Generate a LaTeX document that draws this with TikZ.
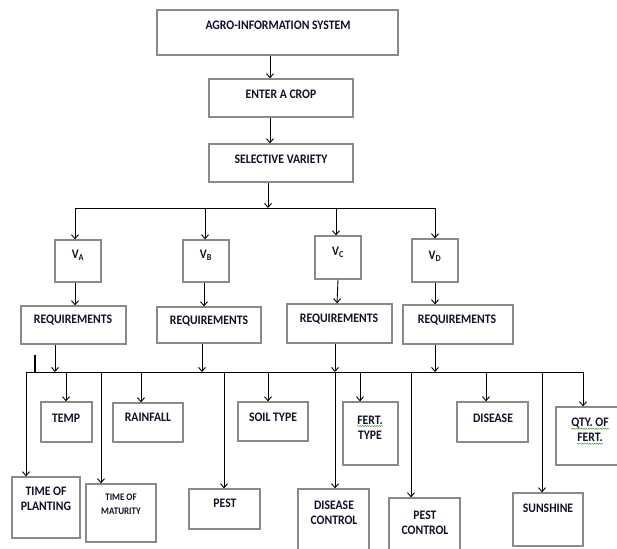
\documentclass[tikz,border=0pt]{standalone}
\usepackage{fontspec}
\setmainfont{Carlito}[FakeStretch=0.9]
\usetikzlibrary{arrows.meta,decorations.pathmorphing}
\definecolor{boxgray}{HTML}{8A8A8A}
\definecolor{txt}{HTML}{10102A}
\definecolor{wavegreen}{HTML}{3FA33F}
\newcommand\gwave[1]{\tikz[baseline=(w.base)]{\node[inner sep=0pt] (w) {#1}; \draw[wavegreen, line width=0.5pt, decorate, decoration={snake,amplitude=0.6pt,segment length=2.4pt}] ([yshift=-1.8pt]w.base west) -- ([yshift=-1.8pt]w.base east);}}
\newcommand\bx[5]{\node[box, minimum width={(#4-#2)*1pt}, minimum height={(#5-#3)*1pt}] (#1) at ({(#2+#4)/2},{(#3+#5)/2}) {};}
\tikzset{
  box/.style={draw=boxgray, line width=1.3pt, inner sep=0pt, fill=none},
  lbl/.style={font=\bfseries\fontsize{13}{15}\selectfont, text=txt, align=center, inner sep=0pt},
  small/.style={font=\bfseries\fontsize{10}{14}\selectfont},
  conn/.style={line width=0.9pt, black},
  arr/.style={conn, -{Straight Barb[length=4pt,width=7pt]}}
}
\begin{document}
\begin{tikzpicture}[x=1pt,y=-1pt]
\useasboundingbox (0,0) rectangle (617,548);
% top chain
\bx{agro}{157}{10}{398}{55}
\bx{enter}{209}{79}{353}{117}
\bx{sel}{209}{144}{353}{182}
\node[lbl] (agrot) at (278,25) {AGRO-INFORMATION SYSTEM};
\node[lbl] (entert) at (281,94) {ENTER A CROP};
\node[lbl] (selt) at (281,159) {SELECTIVE VARIETY};
% varieties
\bx{va}{55}{240}{101}{282}
\bx{vb}{183}{240}{229}{282}
\bx{vc}{315}{236}{361}{279}
\bx{vd}{412}{239}{458}{282}
\node[lbl] (vat) at (78,255) {V\textsubscript{A}};
\node[lbl] (vbt) at (206,255) {V\textsubscript{B}};
\node[lbl] (vct) at (338,252) {V\textsubscript{C}};
\node[lbl] (vdt) at (435,256) {V\textsubscript{D}};
% requirements
\bx{reqa}{21}{306}{126}{344}
\bx{reqb}{157}{307}{261}{343}
\bx{reqc}{287}{304}{392}{343}
\bx{reqd}{403}{305}{513}{344}
\node[lbl] (reqat) at (73,320) {REQUIREMENTS};
\node[lbl] (reqbt) at (209,321) {REQUIREMENTS};
\node[lbl] (reqct) at (339,319) {REQUIREMENTS};
\node[lbl] (reqdt) at (457,320) {REQUIREMENTS};
% leaves
\bx{tp}{12}{477}{80}{538}
\bx{temp}{41}{402}{92}{442}
\bx{tm}{86}{484}{156}{542}
\bx{rain}{113}{403}{183}{442}
\bx{pest}{189}{489}{260}{529}
\bx{soil}{238}{402}{308}{441}
\bx{dc}{298}{489}{369}{555}
\bx{ft}{343}{402}{398}{465}
\bx{pc}{389}{498}{460}{555}
\bx{dis}{457}{402}{528}{442}
\bx{sun}{513}{493}{583}{546}
\bx{qty}{556}{407}{622}{465}
\node[lbl] (tpt) at (46,498.5) {TIME OF\\PLANTING};
\node[lbl] (tempt) at (66,418) {TEMP};
\node[lbl,small] (tmt) at (121,504) {TIME OF\\MATURITY};
\node[lbl] (raint) at (148,417) {RAINFALL};
\node[lbl] (pestt) at (225,503) {PEST};
\node[lbl] (soilt) at (273,417) {SOIL TYPE};
\node[lbl] (dct) at (334,513) {DISEASE\\CONTROL};
\node[lbl] (ftt) at (370,427.5) {\gwave{FERT.}\\TYPE};
\node[lbl] (pct) at (425,523) {PEST\\CONTROL};
\node[lbl] (dist) at (493,418) {DISEASE};
\node[lbl] (sunt) at (548,508) {SUNSHINE};
\node[lbl] (qtyt) at (590,431.5) {\gwave{QTY. OF}\\\gwave{FERT.}};
% top connectors
\coordinate (ax) at (270,0);
\draw[arr] (agro.south -| ax) -- (enter.north -| ax);
\draw[arr] (enter.south -| ax) -- (sel.north -| ax);
\coordinate (busA) at (268,208);
\draw[arr] (sel.south -| busA) -- (busA);
\coordinate (b1) at (75,208);
\coordinate (b4) at (435,208);
\draw[conn] (b1) -- (b4);
\coordinate (b2) at (205,208);
\coordinate (b3) at (336,208);
\draw[arr] (b1) -- (b1 |- va.north);
\draw[arr] (b2) -- (b2 |- vb.north);
\draw[arr] (b3) -- (b3 |- vc.north);
\draw[arr] (b4) -- (b4 |- vd.north);
% variety to requirements
\coordinate (va1) at (75,0);
\coordinate (vb1) at (204,0);
\coordinate (vd1) at (435,0);
\coordinate (vc1) at (337,0);
\draw[arr] (va.south -| va1) -- (reqa.north -| va1);
\draw[arr] (vb.south -| vb1) -- (reqb.north -| vb1);
\draw[arr] (vc.south) -- (reqc.north -| vc1);
\draw[arr] (vd.south -| vd1) -- (reqd.north -| vd1);
% requirements to lower bus
\coordinate (r1) at (55,372);
\coordinate (r2) at (202,372);
\coordinate (r3) at (335,372);
\coordinate (r4) at (435,372);
\draw[arr] (reqa.south -| r1) -- (r1);
\draw[arr] (reqb.south -| r2) -- (r2);
\draw[arr] (reqc.south -| r3) -- (r3);
\draw[arr] (reqd.south -| r4) -- (r4);
% lower bus
\coordinate (L) at (26,372);
\coordinate (R) at (583,372);
\draw[conn] (L) -- (R);
\coordinate (tick) at (35,355);
\draw[line width=1.8pt] (tick) -- (tick |- L);
\coordinate (d1) at (26,372);
\coordinate (d2) at (66,372);
\coordinate (d3) at (101,372);
\coordinate (d4) at (141,372);
\coordinate (d5) at (224,372);
\coordinate (d6) at (268,372);
\coordinate (d7) at (335,372);
\coordinate (d8) at (360,372);
\coordinate (d9) at (411,372);
\coordinate (d10) at (486,372);
\coordinate (d11) at (542,372);
\coordinate (d12) at (583,372);
\draw[arr] (d1) -- (d1 |- tp.north);
\draw[arr] (d2) -- (d2 |- temp.north);
\draw[arr] (d3) -- (d3 |- tm.north);
\draw[arr] (d4) -- (d4 |- rain.north);
\draw[arr] (d5) -- (d5 |- pest.north);
\draw[arr] (d6) -- (d6 |- soil.north);
\draw[arr] (d7) -- (d7 |- dc.north);
\draw[arr] (d8) -- (d8 |- ft.north);
\draw[arr] (d9) -- (d9 |- pc.north);
\draw[arr] (d10) -- (d10 |- dis.north);
\draw[arr] (d11) -- (d11 |- sun.north);
\draw[arr] (d12) -- (d12 |- qty.north);
\end{tikzpicture}
\end{document}
